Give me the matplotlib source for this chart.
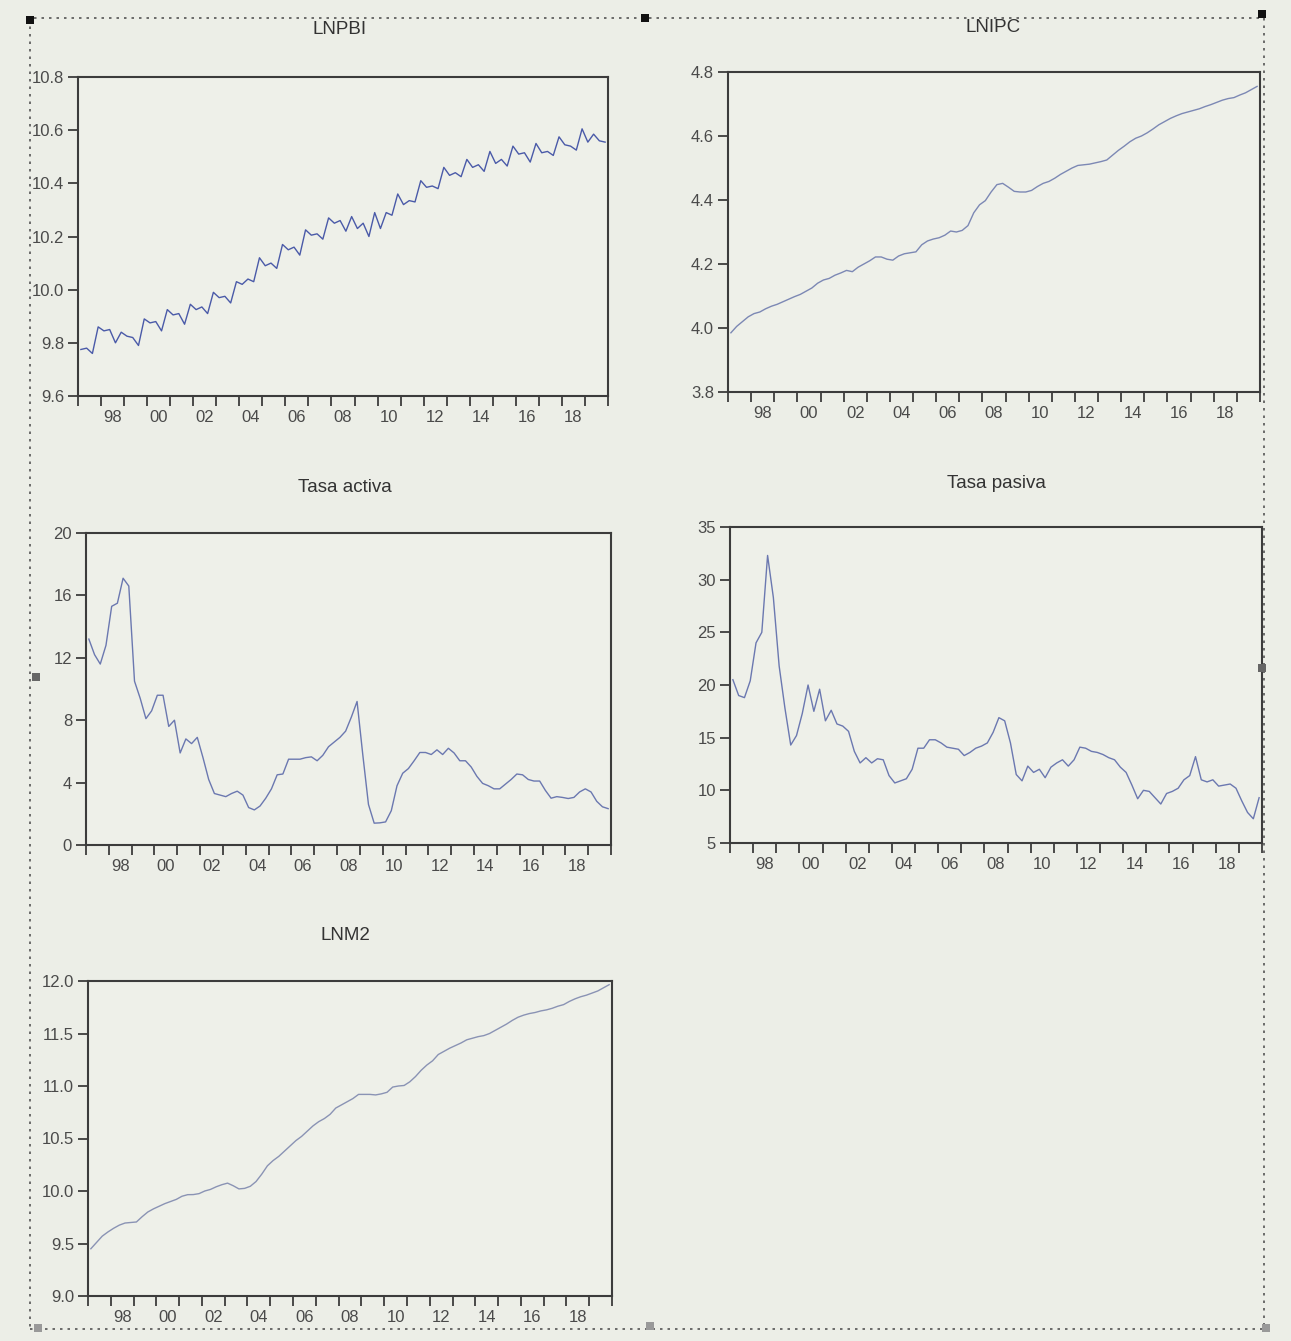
import matplotlib
matplotlib.use("Agg")
import matplotlib.pyplot as plt
from matplotlib.patches import Rectangle
import numpy as np
import pandas as pd

# quarterly sample 1997Q1 - 2019Q4
periods = pd.period_range("1997Q1", "2019Q4", freq="Q")
t = periods.year + (periods.quarter - 0.5) / 4.0

lnpbi = [
    9.775, 9.78, 9.76, 9.86,
    9.845, 9.85, 9.80, 9.84,
    9.825, 9.82, 9.79, 9.89,
    9.875, 9.88, 9.845, 9.925,
    9.905, 9.91, 9.87, 9.945,
    9.925, 9.935, 9.91, 9.99,
    9.97, 9.975, 9.95, 10.03,
    10.02, 10.04, 10.03, 10.12,
    10.09, 10.10, 10.08, 10.17,
    10.15, 10.16, 10.13, 10.225,
    10.205, 10.21, 10.19, 10.27,
    10.25, 10.26, 10.22, 10.275,
    10.23, 10.25, 10.20, 10.29,
    10.23, 10.29, 10.28, 10.36,
    10.32, 10.335, 10.33, 10.41,
    10.385, 10.39, 10.38, 10.46,
    10.43, 10.44, 10.425, 10.49,
    10.46, 10.47, 10.445, 10.52,
    10.475, 10.49, 10.465, 10.54,
    10.51, 10.515, 10.48, 10.55,
    10.515, 10.52, 10.505, 10.575,
    10.545, 10.54, 10.525, 10.605,
    10.555, 10.585, 10.56, 10.555,
]

lnipc = [
    3.985, 4.005, 4.02, 4.035,
    4.045, 4.05, 4.06, 4.068,
    4.074, 4.082, 4.09, 4.098,
    4.105, 4.115, 4.125, 4.14,
    4.15, 4.155, 4.165, 4.172,
    4.18, 4.176, 4.19, 4.20,
    4.21, 4.222, 4.222, 4.215,
    4.212, 4.225, 4.232, 4.235,
    4.238, 4.26, 4.272, 4.278,
    4.282, 4.29, 4.303, 4.30,
    4.305, 4.32, 4.36, 4.385,
    4.398, 4.425, 4.448, 4.452,
    4.44, 4.427, 4.425, 4.425,
    4.43, 4.442, 4.452, 4.458,
    4.468, 4.48, 4.49, 4.50,
    4.508, 4.51, 4.512, 4.516,
    4.52, 4.525, 4.54, 4.555,
    4.568, 4.582, 4.593, 4.60,
    4.61, 4.622, 4.635, 4.645,
    4.655, 4.663, 4.67, 4.675,
    4.68, 4.685, 4.692, 4.698,
    4.705, 4.712, 4.717, 4.72,
    4.728, 4.735, 4.745, 4.755,
]

tasa_activa = [
    13.2, 12.2, 11.6, 12.8,
    15.3, 15.5, 17.1, 16.6,
    10.5, 9.4, 8.1, 8.6,
    9.6, 9.6, 7.6, 8.0,
    5.9, 6.8, 6.5, 6.9,
    5.6, 4.2, 3.3, 3.2,
    3.1, 3.3, 3.45, 3.2,
    2.4, 2.25, 2.5, 3.0,
    3.6, 4.5, 4.55, 5.5,
    5.5, 5.5, 5.6, 5.65,
    5.4, 5.75, 6.3, 6.6,
    6.9, 7.3, 8.2, 9.2,
    5.8, 2.6, 1.4, 1.42,
    1.48, 2.2, 3.8, 4.6,
    4.9, 5.4, 5.93, 5.93,
    5.8, 6.1, 5.8, 6.2,
    5.9, 5.4, 5.4, 5.0,
    4.4, 3.95, 3.8, 3.6,
    3.6, 3.9, 4.2, 4.55,
    4.5, 4.2, 4.1, 4.1,
    3.5, 3.0, 3.1, 3.05,
    2.98, 3.05, 3.4, 3.6,
    3.4, 2.8, 2.45, 2.33,
]

tasa_pasiva = [
    20.5, 19.0, 18.8, 20.4,
    24.0, 25.0, 32.3, 28.3,
    21.8, 17.8, 14.3, 15.2,
    17.3, 20.0, 17.5, 19.6,
    16.6, 17.6, 16.3, 16.1,
    15.6, 13.7, 12.6, 13.1,
    12.6, 13.0, 12.9, 11.4,
    10.7, 10.9, 11.1, 12.0,
    14.0, 14.0, 14.8, 14.8,
    14.5, 14.1, 14.0, 13.9,
    13.3, 13.6, 14.0, 14.2,
    14.5, 15.5, 16.9, 16.6,
    14.5, 11.5, 10.9, 12.3,
    11.7, 12.0, 11.2, 12.2,
    12.6, 12.9, 12.3, 12.9,
    14.1, 14.0, 13.7, 13.6,
    13.4, 13.1, 12.9, 12.2,
    11.7, 10.5, 9.2, 10.0,
    9.9, 9.3, 8.7, 9.7,
    9.9, 10.2, 11.0, 11.4,
    13.2, 11.0, 10.8, 11.0,
    10.4, 10.5, 10.6, 10.2,
    9.0, 7.9, 7.3, 9.3,
]

lnm2 = [
    9.45, 9.51, 9.57, 9.61,
    9.645, 9.675, 9.695, 9.70,
    9.705, 9.755, 9.80, 9.83,
    9.855, 9.88, 9.90, 9.92,
    9.95, 9.965, 9.966, 9.975,
    10.0, 10.015, 10.04, 10.06,
    10.075, 10.05, 10.02, 10.025,
    10.045, 10.09, 10.16, 10.24,
    10.29, 10.33, 10.38, 10.43,
    10.48, 10.52, 10.57, 10.62,
    10.66, 10.69, 10.73, 10.79,
    10.82, 10.85, 10.88, 10.92,
    10.92, 10.92, 10.915, 10.925,
    10.94, 10.99, 11.0, 11.005,
    11.04, 11.09, 11.15, 11.2,
    11.24, 11.3, 11.33, 11.36,
    11.385, 11.41, 11.44, 11.455,
    11.47, 11.48, 11.5, 11.53,
    11.56, 11.59, 11.625, 11.655,
    11.675, 11.69, 11.70, 11.715,
    11.725, 11.74, 11.76, 11.775,
    11.805, 11.83, 11.85, 11.865,
    11.885, 11.905, 11.935, 11.965,
]

year_ticks = list(range(1997, 2021))
label_years = list(range(1998, 2019, 2))
year_labels = ["%02d" % (y % 100) for y in label_years]

W, H = 1291, 1341
BG = "#eceee7"
FRAME = "#3c3c3c"
TXT = "#4a4a4a"

plt.rcParams["font.family"] = ["Liberation Sans", "DejaVu Sans"]

fig = plt.figure(figsize=(W / 100, H / 100), dpi=100, facecolor=BG)


def px_rect(l, t, r, b):
    return [l / W, 1 - b / H, (r - l) / W, (b - t) / H]


def panel(box, title, title_xy, y, ylim, yticks, ylabels, color):
    ax = fig.add_axes(px_rect(*box))
    ax.set_facecolor("#eef0e9")
    ax.plot(t, y, color=color, lw=1.0)
    ax.set_xlim(1997, 2020)
    ax.set_ylim(*ylim)
    ax.set_yticks(yticks)
    ax.set_yticklabels(ylabels)
    ax.set_xticks(year_ticks)
    ax.set_xticklabels([])
    ax.set_xticks([y + 0.5 for y in label_years], minor=True)
    ax.set_xticklabels(year_labels, minor=True)
    ax.tick_params(axis="x", which="major", direction="out", length=7,
                   width=1.3, color=FRAME)
    ax.tick_params(axis="x", which="minor", length=0, pad=10,
                   labelsize=12, labelcolor=TXT)
    ax.tick_params(axis="y", direction="out", length=7, width=1.3,
                   color=FRAME, pad=3, labelsize=12, labelcolor=TXT)
    for s in ax.spines.values():
        s.set_color(FRAME)
        s.set_linewidth(1.5)
    fig.text(title_xy[0] / W, 1 - title_xy[1] / H, title, ha="center",
             va="center", fontsize=13.5, color="#333333")
    return ax


panel((78, 77, 608, 396), "LNPBI", (340, 30), lnpbi, (9.6, 10.8),
      [9.6, 9.8, 10.0, 10.2, 10.4, 10.6, 10.8],
      ["9.6", "9.8", "10.0", "10.2", "10.4", "10.6", "10.8"], "#4a5aa8")
panel((728, 72, 1260, 392), "LNIPC", (993, 27), lnipc, (3.8, 4.8),
      [3.8, 4.0, 4.2, 4.4, 4.6, 4.8],
      ["3.8", "4.0", "4.2", "4.4", "4.6", "4.8"], "#7c88b4")
panel((86, 533, 611, 845), "Tasa activa", (345, 487), tasa_activa, (0, 20),
      [0, 4, 8, 12, 16, 20], ["0", "4", "8", "12", "16", "20"], "#6b78b0")
panel((730, 527, 1262, 843), "Tasa pasiva", (996, 483), tasa_pasiva, (5, 35),
      [5, 10, 15, 20, 25, 30, 35],
      ["5", "10", "15", "20", "25", "30", "35"], "#6b78b0")
panel((88, 981, 612, 1296), "LNM2", (345, 936), lnm2, (9.0, 12.0),
      [9.0, 9.5, 10.0, 10.5, 11.0, 11.5, 12.0],
      ["9.0", "9.5", "10.0", "10.5", "11.0", "11.5", "12.0"], "#8a93b4")

# dotted selection frame and handles around the graph object
fig.add_artist(Rectangle((30 / W, 1 - 1329 / H), (1264 - 30) / W, (1329 - 18) / H,
                         transform=fig.transFigure, fill=False, ec="#555555",
                         lw=1.2, ls=(0, (1.5, 3))))
for hx, hy, hc in [(30, 20, "#111111"), (645, 18, "#111111"), (1262, 14, "#111111"),
                   (36, 677, "#666666"), (1262, 668, "#666666"),
                   (38, 1328, "#999999"), (650, 1326, "#999999"), (1266, 1328, "#999999")]:
    fig.add_artist(Rectangle(((hx - 4) / W, 1 - (hy + 4) / H), 8 / W, 8 / H,
                             transform=fig.transFigure, fc=hc, ec="none"))

fig.savefig("out.png", dpi=100, facecolor=BG)
